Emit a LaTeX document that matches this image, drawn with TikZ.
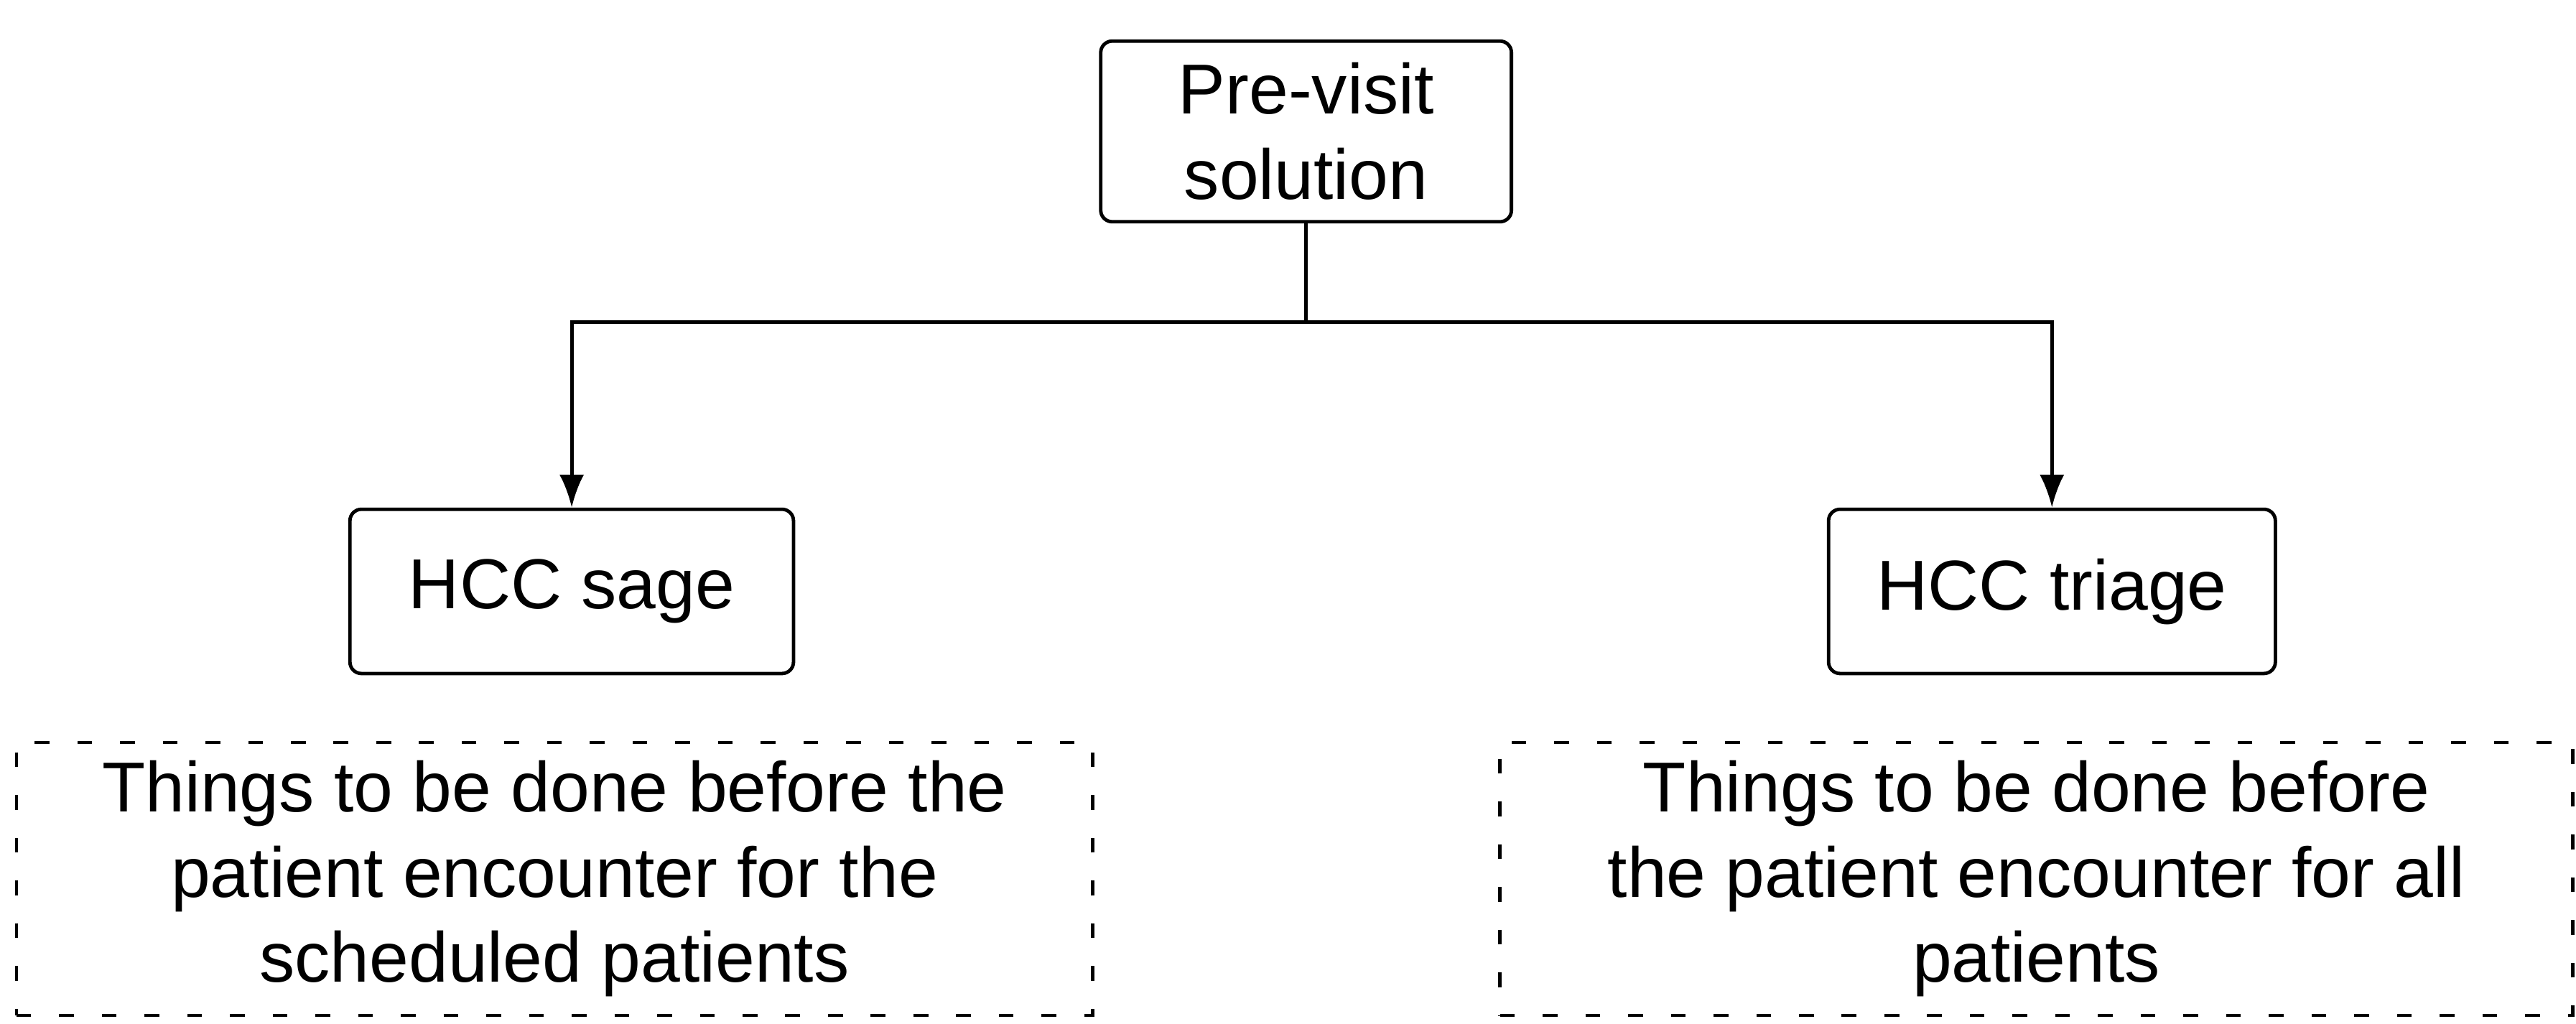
\documentclass[tikz,border=0pt]{standalone}
\usepackage{fontspec}
\setmainfont{Liberation Sans}
\usetikzlibrary{arrows.meta}

\begin{document}
\begin{tikzpicture}[
    boite/.style={draw, line width=1.2pt, rounded corners=4pt, align=center,
        font=\fontsize{24.5}{29.5}\selectfont},
    note/.style={draw, line width=1.1pt, dash pattern=on 0.18cm off 0.34cm,
        align=center, font=\fontsize{24.5}{29.5}\selectfont},
    fleche/.style={line width=1.2pt, -{Latex[length=0.4cm,width=0.3cm]}}
]
    \useasboundingbox (0,0) rectangle (31.36,12.46);

    %Boites
    \node[boite, minimum width=5cm, minimum height=2.2cm] (previsit) at (15.9,10.86) {Pre-visit\\solution};
    \node[boite, minimum width=5.4cm, minimum height=2cm] (sage) at (6.96,5.26) {HCC sage};
    \node[boite, minimum width=5.44cm, minimum height=2cm] (triage) at (24.98,5.26) {HCC triage};

    %Descriptions en pointilles
    \node[note, minimum width=13.1cm, minimum height=3.32cm] (descsage) at (6.75,1.76)
        {Things to be done before the\\patient encounter for the\\scheduled patients};
    \node[note, minimum width=13.06cm, minimum height=3.32cm] (desctriage) at (24.79,1.76)
        {Things to be done before\\the patient encounter for all\\patients};

    %Liaisons
    \coordinate (jonction) at (15.9,8.54);
    \draw[line width=1.2pt] (previsit.south) -- (jonction);
    \draw[fleche] (jonction) -| (sage.north);
    \draw[fleche] (jonction) -| (triage.north);

\end{tikzpicture}
\end{document}
